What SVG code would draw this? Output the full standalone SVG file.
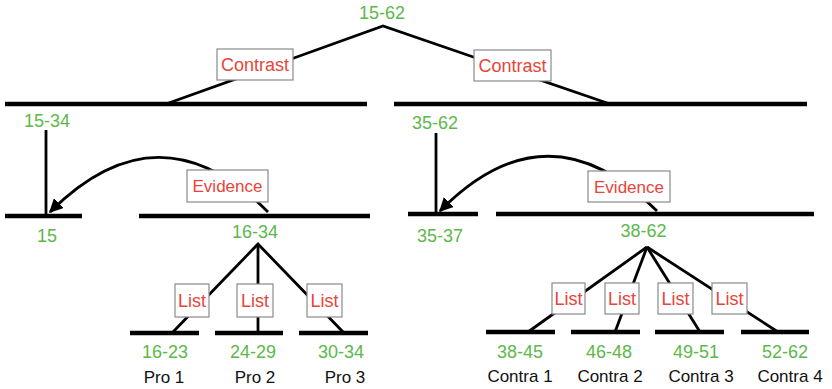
<svg xmlns="http://www.w3.org/2000/svg" width="832" height="389" viewBox="0 0 832 389">
<style>
.g{fill:#5cb84a;font-family:"Liberation Sans",Arial,sans-serif;font-size:18px;text-anchor:middle}
.r{fill:#e8443a;font-family:"Liberation Sans",Arial,sans-serif;font-size:18px;text-anchor:middle}
.k{fill:#111;font-family:"Liberation Sans",Arial,sans-serif;font-size:17px;text-anchor:middle}
.box{fill:#fff;stroke:#8a8a8a;stroke-width:1.2}
.bar{stroke:#000;stroke-width:4.5;fill:none}
.ln{stroke:#000;stroke-width:2.8;fill:none}
</style>
<defs>
<marker id="ah" viewBox="0 0 10 10" refX="9" refY="5" markerWidth="5" markerHeight="5" orient="auto" markerUnits="strokeWidth">
<path d="M0,0 L10,5 L0,10 z" fill="#000"/>
</marker>
</defs>
<rect width="832" height="389" fill="#fff"/>
<g id="connectors">
<polyline class="ln" points="166,104 383,26 610,104"/>
<line class="ln" x1="46" y1="130" x2="46" y2="216"/>
<line class="ln" x1="436" y1="133" x2="436" y2="214"/>
<path class="ln" d="M268,212 C195,139 123,139 50,212" marker-end="url(#ah)"/>
<path class="ln" d="M657,211 C584,138 512,138 440,211" marker-end="url(#ah)"/>
<polyline class="ln" points="172,333 258,244 344,333"/>
<line class="ln" x1="258" y1="244" x2="258" y2="333"/>
<line class="ln" x1="647" y1="247" x2="528" y2="332"/>
<line class="ln" x1="647" y1="247" x2="615" y2="332"/>
<line class="ln" x1="647" y1="247" x2="700" y2="332"/>
<line class="ln" x1="647" y1="247" x2="778" y2="332"/>
</g>
<g id="bars">
<line class="bar" x1="5" y1="104" x2="367" y2="104"/>
<line class="bar" x1="394" y1="104" x2="807" y2="104"/>
<line class="bar" x1="5" y1="216" x2="82" y2="216"/>
<line class="bar" x1="139" y1="216" x2="370" y2="216"/>
<line class="bar" x1="408" y1="214" x2="478" y2="214"/>
<line class="bar" x1="496" y1="214" x2="814" y2="214"/>
<line class="bar" x1="130" y1="333" x2="199" y2="333"/>
<line class="bar" x1="215" y1="333" x2="283" y2="333"/>
<line class="bar" x1="299" y1="333" x2="368" y2="333"/>
<line class="bar" x1="486" y1="332" x2="555" y2="332"/>
<line class="bar" x1="571" y1="332" x2="640" y2="332"/>
<line class="bar" x1="655" y1="332" x2="724" y2="332"/>
<line class="bar" x1="741" y1="332" x2="809" y2="332"/>
</g>
<g id="n-15-62"><text class="g" x="382" y="19">15-62</text></g>
<g id="rel-contrast-1"><rect class="box" x="217" y="49" width="76" height="31"/><text class="r" x="255" y="71">Contrast</text></g>
<g id="rel-contrast-2"><rect class="box" x="474" y="50" width="77" height="31"/><text class="r" x="512.5" y="72">Contrast</text></g>
<g id="n-15-34"><text class="g" x="47" y="127">15-34</text></g>
<g id="n-35-62"><text class="g" x="435" y="129">35-62</text></g>
<g id="rel-evidence-1"><rect class="box" x="187" y="170" width="81" height="32"/><text class="r" x="227.5" y="192" style="font-size:17px">Evidence</text></g>
<g id="rel-evidence-2"><rect class="box" x="588" y="171" width="82" height="31"/><text class="r" x="629" y="193" style="font-size:17px">Evidence</text></g>
<g id="n-15"><text class="g" x="47" y="242">15</text></g>
<g id="n-16-34"><text class="g" x="255" y="238">16-34</text></g>
<g id="n-35-37"><text class="g" x="440" y="242">35-37</text></g>
<g id="n-38-62"><text class="g" x="643.5" y="237">38-62</text></g>
<g id="rel-list-1"><rect class="box" x="175" y="284" width="34" height="33"/><text class="r" x="192" y="307">List</text></g>
<g id="rel-list-2"><rect class="box" x="237" y="284" width="36" height="33"/><text class="r" x="255" y="307">List</text></g>
<g id="rel-list-3"><rect class="box" x="307" y="284" width="35" height="33"/><text class="r" x="324.5" y="307">List</text></g>
<g id="rel-list-4"><rect class="box" x="552" y="283" width="33" height="31"/><text class="r" x="568.5" y="305">List</text></g>
<g id="rel-list-5"><rect class="box" x="605" y="283" width="34" height="31"/><text class="r" x="622" y="305">List</text></g>
<g id="rel-list-6"><rect class="box" x="658" y="283" width="35" height="31"/><text class="r" x="675.5" y="305">List</text></g>
<g id="rel-list-7"><rect class="box" x="712" y="283" width="35" height="31"/><text class="r" x="729.5" y="305">List</text></g>
<g id="n-16-23"><text class="g" x="165" y="358">16-23</text><text class="k" x="164" y="383">Pro 1</text></g>
<g id="n-24-29"><text class="g" x="253" y="358">24-29</text><text class="k" x="255" y="383">Pro 2</text></g>
<g id="n-30-34"><text class="g" x="341" y="358">30-34</text><text class="k" x="345" y="383">Pro 3</text></g>
<g id="n-38-45"><text class="g" x="520" y="358">38-45</text><text class="k" x="520" y="382">Contra 1</text></g>
<g id="n-46-48"><text class="g" x="609" y="358">46-48</text><text class="k" x="610" y="382">Contra 2</text></g>
<g id="n-49-51"><text class="g" x="696" y="358">49-51</text><text class="k" x="701" y="382">Contra 3</text></g>
<g id="n-52-62"><text class="g" x="785" y="358">52-62</text><text class="k" x="790" y="382">Contra 4</text></g>
</svg>
